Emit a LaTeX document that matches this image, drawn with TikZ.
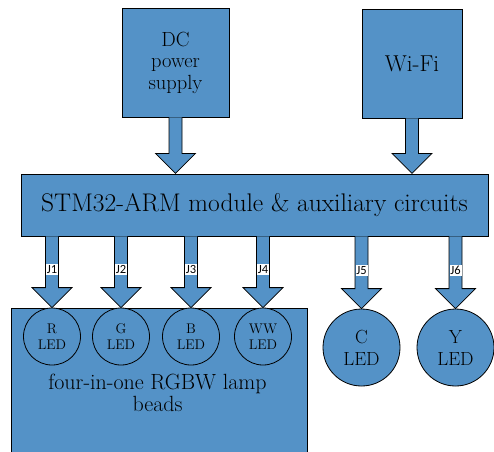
\documentclass[tikz,border=0pt]{standalone}
\usetikzlibrary{calc}
\usepackage{fontspec}
\newfontfamily\jfont{Carlito}
\definecolor{bl}{RGB}{84,146,199}
\newcommand\barr[2]{%
  \filldraw[arrowshape] let \p1=(#1.south), \p2=(#2.north) in
    (\x2-6.5pt,\y1) -- (\x2-6.5pt,\y2+20pt) -- (\x2-20pt,\y2+20pt) -- (\x2,\y2)
    -- (\x2+20pt,\y2+20pt) -- (\x2+6.5pt,\y2+20pt) -- (\x2+6.5pt,\y1);
}
\begin{document}
\begin{tikzpicture}[x=1pt,y=-1pt,
  box/.style={draw=black, fill=bl, line width=0.8pt, inner sep=0pt, align=center},
  ledsmall/.style={box, circle, minimum size=57pt, font=\fontsize{14}{16}\selectfont},
  ledbig/.style={box, circle, minimum size=77pt, font=\fontsize{19}{22}\selectfont},
  arrowshape/.style={draw=black, fill=bl, line width=0.8pt, line join=miter},
  tipnode/.style={inner sep=0pt, minimum size=0pt},
  jlab/.style={fill=white, inner xsep=0pt, inner ysep=1.5pt, minimum width=12pt, font=\jfont\fontsize{12.5}{13}\selectfont}]
\useasboundingbox (0,0) rectangle (494,451);
\node[box, minimum width=107pt, minimum height=109pt, font=\fontsize{20.5}{21.5}\selectfont] (dc) at (175.5,62.5) {DC\\power\\supply};
\node[box, minimum width=100pt, minimum height=109pt, font=\fontsize{23}{26}\selectfont] (wifi) at (412,63.5) {Wi-Fi};
\node[box, minimum width=467pt, minimum height=62pt, font=\fontsize{25.5}{28}\selectfont] (stm) at (254.5,205) {STM32-ARM module \& auxiliary circuits};
\node[box, minimum width=296pt, minimum height=170pt] (lamp) at (159,393) {};
\node[align=center, font=\fontsize{22}{22}\selectfont] (lamptext) at (157.5,393) {four-in-one RGBW lamp\\beads};
\node[ledsmall] (ledr) at (52,336.5) {R\\LED};
\node[ledsmall] (ledg) at (121,336.5) {G\\LED};
\node[ledsmall] (ledb) at (191,336.5) {B\\LED};
\node[ledsmall] (ledww) at (263,336.5) {WW\\LED};
\node[ledbig] (ledc) at (361.5,347.5) {C\\LED};
\node[ledbig] (ledy) at (455.5,347.5) {Y\\LED};
\node[tipnode] (dt) at (dc.south |- stm.north) {};
\node[tipnode] (wt) at (wifi.south |- stm.north) {};
\barr{dc}{dt}
\barr{wifi}{wt}
\foreach \nm/\l in {ledr/J1, ledg/J2, ledb/J3, ledww/J4, ledc/J5, ledy/J6}{
  \barr{stm}{\nm}
  \node[jlab] (lab\nm) at ($(\nm.north)+(0,-38)$) {\l};
}
\end{tikzpicture}
\end{document}
